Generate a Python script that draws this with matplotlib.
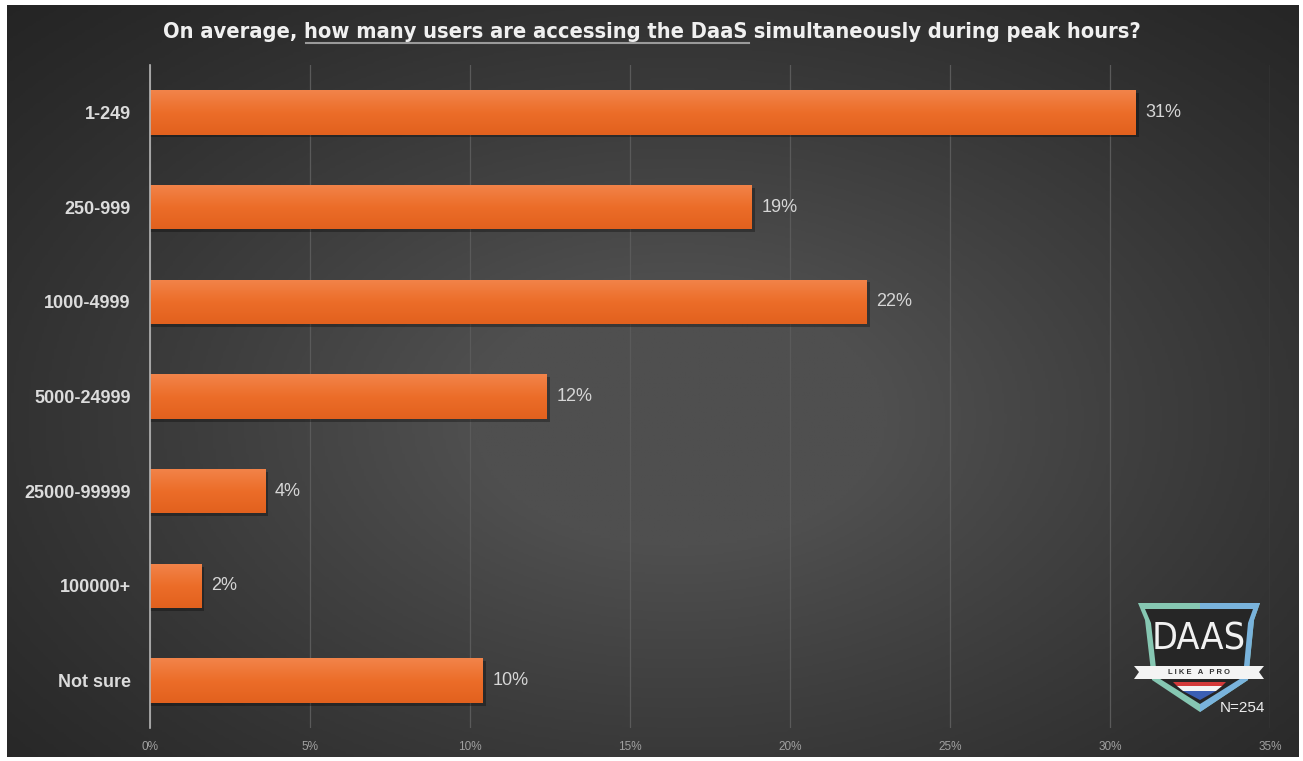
import numpy as np
import matplotlib
matplotlib.use("Agg")
import matplotlib.pyplot as plt
from matplotlib.patches import Polygon, Rectangle
from matplotlib.colors import LinearSegmentedColormap

categories = ['1-249', '250-999', '1000-4999', '5000-24999', '25000-99999', '100000+', 'Not sure']
shares = [30.8, 18.8, 22.4, 12.4, 3.6, 1.6, 10.4]
xticks = [0, 5, 10, 15, 20, 25, 30, 35]
sample_size = 254

W, H = 1303, 761
plt.rcParams['font.family'] = ['Liberation Sans', 'DejaVu Sans']
fig = plt.figure(figsize=(W / 100, H / 100), dpi=100, facecolor='white')

# dark panel with soft radial light
bg = fig.add_axes([7 / W, 4 / H, 1292 / W, 752 / H])
bg.set_axis_off()
yy, xx = np.mgrid[0:1:300j, 0:1:500j]
r = np.sqrt(((xx - 0.52) / 0.75) ** 2 + ((yy - 0.55) / 0.8) ** 2)
shade = np.clip(1 - r, 0, 1) ** 1.2
gray = LinearSegmentedColormap.from_list('g', ['#242424', '#4f4f4f'])
bg.imshow(shade, cmap=gray, aspect='auto', extent=[0, 1, 0, 1], vmin=0, vmax=0.75)
bg.set_xlim(0, 1)
bg.set_ylim(0, 1)

ax = fig.add_axes([150 / W, 33 / H, 1120 / W, 663 / H])
ax.patch.set_alpha(0)
y = np.arange(len(categories))
bars = ax.barh(y, shares, height=0.47, color='#ee6f2d', edgecolor='none', zorder=3)

orange = LinearSegmentedColormap.from_list('o', ['#f2844a', '#ec6d29', '#e2611e'])
grad = np.linspace(0, 1, 64).reshape(-1, 1)
for b in bars:
    x0, y0, w, h = b.get_x(), b.get_y(), b.get_width(), b.get_height()
    ax.add_patch(Rectangle((x0, y0 + 0.03), w + 0.1, h, color='black', alpha=0.3, zorder=2, lw=0))
    im = ax.imshow(grad, cmap=orange, aspect='auto', extent=[x0, x0 + w, y0 + h, y0], zorder=4)
    im.set_clip_path(b)

for yi, v in zip(y, shares):
    ax.text(v + 0.3, yi, f'{round(v)}%', va='center', ha='left', fontsize=13,
            color='#d6d6d6', zorder=5)

ax.set_xlim(0, 35)
ax.set_ylim(len(categories) - 0.5, -0.5)
ax.set_xticks(xticks)
ax.set_xticklabels([f'{t}%' for t in xticks], fontsize=8.5, color='#a0a0a0')
ax.set_yticks(y)
ax.set_yticklabels(categories, fontsize=13, fontweight='bold', color='#dcdcdc')
ax.tick_params(axis='y', length=0, pad=14)
ax.tick_params(axis='x', length=0, pad=9)
ax.grid(axis='x', color='#5a5a5a', lw=0.9, zorder=0)
for side in ['top', 'right', 'bottom']:
    ax.spines[side].set_visible(False)
ax.spines['left'].set_color('#b5b5b5')
ax.spines['left'].set_linewidth(1.2)
ax.spines['left'].set_zorder(6)

# title, with the middle phrase underlined
parts = ['On average, ', 'how many users are accessing the DaaS', ' simultaneously during peak hours?']
tfont = dict(fontsize=15.7, fontweight='bold', color='#f0f0f0', fontstretch='condensed',
             family=['DejaVu Sans'])
fig.canvas.draw()
renderer = fig.canvas.get_renderer()
widths = []
for p in parts:
    t = fig.text(0, 0, p.replace(' ', '\u00a0'), **tfont)
    widths.append(t.get_window_extent(renderer).width)
    t.remove()
total = sum(widths)
x = 652 - total / 2
ty = H - 32
for i, p in enumerate(parts):
    fig.text(x / W, ty / H, p.replace(' ', '\u00a0'), va='center', ha='left', **tfont)
    if i == 1:
        fig.add_artist(plt.Line2D([(x + 2) / W, (x + widths[i] + 2) / W], [(ty - 11) / H, (ty - 11) / H],
                                  color='#9a9a9a', lw=1.5))
    x += widths[i]

# badge in the lower right corner
lg = fig.add_axes([1120 / W, (H - 750) / H, 170 / W, 160 / H])
lg.set_axis_off()
lg.set_xlim(0, 170)
lg.set_ylim(160, 0)
outer = [(18, 13), (140, 13), (134, 30), (128, 90), (80, 122), (32, 90), (25, 30)]
inner = [(25, 19), (133, 19), (128, 33), (123, 87), (80, 114), (37, 87), (31, 33)]
lg.add_patch(Polygon(outer, closed=True, facecolor='#86c7b2', edgecolor='none'))
lg.add_patch(Polygon([(80, 13), (140, 13), (134, 30), (128, 90), (80, 122)], closed=True,
                     facecolor='#79b3dc', edgecolor='none'))
lg.add_patch(Polygon(inner, closed=True, facecolor='#262626', edgecolor='none'))
lg.text(79, 49, 'DAAS', ha='center', va='center', fontsize=27, color='#f2f2f2',
        fontstretch='condensed', family=['DejaVu Sans'])
lg.add_patch(Polygon([(14, 76), (144, 76), (139, 82), (144, 89), (14, 89), (19, 82)], closed=True,
                     facecolor='#f4f4f4', edgecolor='none'))
lg.text(79, 82.5, 'L I K E   A   P R O', ha='center', va='center', fontsize=5.5,
        fontweight='bold', color='#303030')
lg.add_patch(Polygon([(53, 92), (106, 92), (102, 96), (57, 96)], facecolor='#d33a3a', edgecolor='none'))
lg.add_patch(Polygon([(57, 96), (102, 96), (96, 101), (63, 101)], facecolor='#f4f4f4', edgecolor='none'))
lg.add_patch(Polygon([(63, 101), (96, 101), (80, 110)], facecolor='#3b5fb4', edgecolor='none'))
lg.text(122, 118, f'N={sample_size}', ha='center', va='center', fontsize=11, color='#eeeeee')

fig.savefig('out.png', dpi=100, facecolor='white')
